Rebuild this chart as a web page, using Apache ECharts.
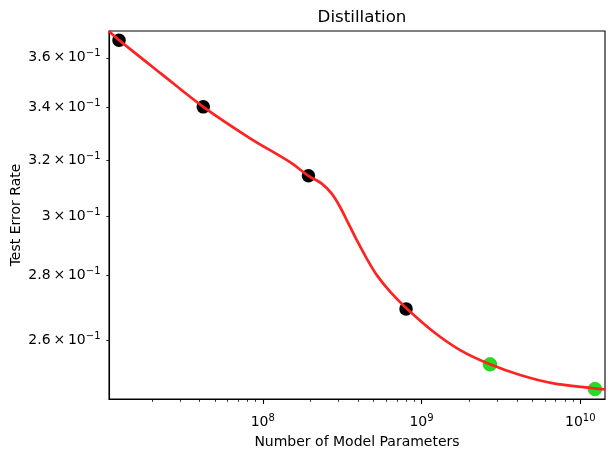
<!DOCTYPE html>
<html>
<head>
<meta charset="utf-8">
<script src="https://cdn.jsdelivr.net/npm/echarts@6/dist/echarts.min.js"></script>
<style>
html, body { margin: 0; padding: 0; background: #fff; }
#chart { width: 615px; height: 457px; }
</style>
</head>
<body>
<div id="chart"></div>
<script>
// measured points (black = trained, green = distilled)
var blackParams = [1.243e7, 4.22e7, 1.94e8, 7.99e8];
var blackErrors = [0.3674, 0.3402, 0.3142, 0.2695];
var greenParams = [2.70e9, 1.238e10];
var greenErrors = [0.2528, 0.2457];

// fitted curve
var curveParams = [1.075e7, 1.243e7, 2.287e7, 4.22e7, 8.32e7, 1.486e8, 1.94e8, 2.354e8, 2.72e8, 3.07e8, 3.463e8,
	3.912e8, 4.52e8, 5.23e8, 6.34e8, 8.03e8, 1.189e9, 1.751e9, 2.706e9, 4.18e9, 6.78e9, 1.432e10];
var curveErrors = [0.3712, 0.3674, 0.3535, 0.3402, 0.3281, 0.3192, 0.3142, 0.3114, 0.3078, 0.3031, 0.2974,
	0.2917, 0.2856, 0.2802, 0.2749, 0.2697, 0.2625, 0.2570, 0.2528, 0.2497, 0.2473, 0.2456];

// ticks
var xMajorTicks = [1e8, 1e9, 1e10];
var xMinorTicks = [2e7, 3e7, 4e7, 5e7, 6e7, 7e7, 8e7, 9e7,
	2e8, 3e8, 4e8, 5e8, 6e8, 7e8, 8e8, 9e8,
	2e9, 3e9, 4e9, 5e9, 6e9, 7e9, 8e9, 9e9];
var yTicks = [0.26, 0.28, 0.30, 0.32, 0.34, 0.36];

var xMin = 1.075e7, xMax = 1.432e10;
var yMin = 0.2429, yMax = 0.3713;

function zip(xs, ys) {
	var out = [];
	for (var i = 0; i < xs.length; i++) out.push([xs[i], ys[i]]);
	return out;
}

var FONT = 'DejaVu Sans';
var supRich = {
	b: { fontFamily: FONT, fontSize: 14, lineHeight: 14, color: '#000', verticalAlign: 'bottom' },
	s: { fontFamily: FONT, fontSize: 10, lineHeight: 10, color: '#000', verticalAlign: 'bottom', padding: [0, 0, 6, 0] }
};

var myChart = echarts.init(document.getElementById('chart'));

var option = {
	animation: false,
	backgroundColor: '#fff',
	title: {
		text: 'Distillation',
		left: 357,
		top: 4,
		textAlign: 'center',
		textStyle: { fontFamily: FONT, fontSize: 16.7, fontWeight: 'normal', color: '#000' }
	},
	grid: {
		left: 109, top: 31, width: 496, height: 368,
		outerBoundsMode: 'none', containLabel: false,
		show: true, borderColor: '#000', borderWidth: 1.1, backgroundColor: 'transparent'
	},
	xAxis: [
		{
			type: 'log', logBase: 10, min: xMin, max: xMax, position: 'bottom',
			name: 'Number of Model Parameters', nameLocation: 'middle', nameGap: 36,
			nameMoveOverlap: false,
			nameTextStyle: { fontFamily: FONT, fontSize: 14, color: '#000' },
			axisLine: { show: true, lineStyle: { color: '#000', width: 1.1 } },
			axisTick: { show: true, customValues: xMajorTicks, length: 4.9, lineStyle: { color: '#000', width: 1.1 } },
			axisLabel: {
				customValues: xMajorTicks, margin: 16,
				formatter: function (v) {
					return '{b|10}{s|' + Math.round(Math.log10(v)) + '}';
				},
				rich: supRich
			},
			splitLine: { show: false }
		},
		{
			type: 'log', logBase: 10, min: xMin, max: xMax, position: 'bottom',
			axisLine: { show: false },
			axisTick: { show: true, customValues: xMinorTicks, length: 2.8, lineStyle: { color: '#000', width: 0.8 } },
			axisLabel: { show: false },
			splitLine: { show: false }
		}
	],
	yAxis: {
		type: 'log', logBase: 10, min: yMin, max: yMax,
		name: 'Test Error Rate', nameLocation: 'middle', nameGap: 86,
		nameMoveOverlap: false,
		nameTextStyle: { fontFamily: FONT, fontSize: 14, color: '#000' },
		axisLine: { show: true, lineStyle: { color: '#000', width: 1.1 } },
		axisTick: { show: true, customValues: yTicks, length: 2.8, lineStyle: { color: '#000', width: 0.8 } },
		axisLabel: {
			customValues: yTicks, margin: 8.5,
			formatter: function (v) {
				var m = Math.round(v * 100) / 10;
				return '{b|' + m + '\u2009\u00d7\u200910}{s|\u22121}';
			},
			rich: supRich
		},
		splitLine: { show: false }
	},
	series: [
		{
			type: 'scatter', xAxisIndex: 0, z: 2,
			symbolSize: 13.5,
			itemStyle: { color: '#000', opacity: 1 },
			data: zip(blackParams, blackErrors)
		},
		{
			type: 'scatter', xAxisIndex: 0, z: 2,
			symbolSize: 13.5,
			itemStyle: { color: '#1fe01f', borderColor: '#19c819', borderWidth: 0.8, opacity: 1 },
			data: zip(greenParams, greenErrors)
		},
		{
			type: 'line', xAxisIndex: 0, z: 3,
			smooth: 0.3,
			showSymbol: false,
			clip: true,
			lineStyle: { color: '#ff2222', width: 2.7 },
			data: zip(curveParams, curveErrors)
		}
	]
};

myChart.setOption(option);
</script>
</body>
</html>
